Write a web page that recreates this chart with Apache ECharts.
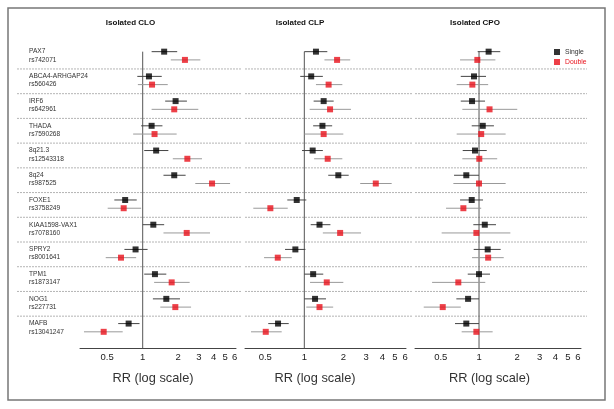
<!DOCTYPE html>
<html>
<head>
<meta charset="utf-8">
<script src="https://cdn.jsdelivr.net/npm/echarts@6/dist/echarts.min.js"></script>
<style>
  html, body { margin: 0; padding: 0; background: #fff; }
  #main { width: 614px; height: 409px; }
</style>
</head>
<body>
<div id="main"></div>
<script>
// loci, top to bottom
const genes = ['PAX7', 'ABCA4-ARHGAP24', 'IRF6', 'THADA', '8q21.3', '8q24', 'FOXE1',
  'KIAA1598-VAX1', 'SPRY2', 'TPM1', 'NOG1', 'MAFB'];
const snps = ['rs742071', 'rs560426', 'rs642961', 'rs7590268', 'rs12543318', 'rs987525',
  'rs3758249', 'rs7078160', 'rs8001641', 'rs1873147', 'rs227731', 'rs13041247'];

const panelTitles = ['Isolated CLO', 'Isolated CLP', 'Isolated CPO'];
const xTicks = [0.5, 1, 2, 3, 4, 5, 6];

// [RR, lower, upper]
const cloSingle = [[1.52, 1.19, 1.96], [1.13, 0.90, 1.45], [1.90, 1.55, 2.37], [1.19, 0.97, 1.47],
  [1.30, 1.03, 1.65], [1.85, 1.50, 2.31], [0.71, 0.575, 0.89], [1.23, 1.00, 1.52],
  [0.87, 0.70, 1.10], [1.27, 1.03, 1.585], [1.585, 1.22, 2.07], [0.76, 0.62, 0.94]];
const cloDouble = [[2.28, 1.73, 3.08], [1.20, 0.91, 1.63], [1.85, 1.19, 2.96], [1.26, 0.83, 1.94],
  [2.39, 1.80, 3.18], [3.87, 2.79, 5.5], [0.69, 0.505, 0.97], [2.36, 1.50, 3.72],
  [0.655, 0.486, 0.88], [1.76, 1.25, 2.50], [1.89, 1.41, 2.57], [0.467, 0.318, 0.677]];
const clpSingle = [[1.23, 1.00, 1.505], [1.13, 0.93, 1.39], [1.41, 1.18, 1.685], [1.38, 1.17, 1.64],
  [1.16, 0.96, 1.39], [1.83, 1.53, 2.20], [0.874, 0.739, 1.036], [1.31, 1.12, 1.59],
  [0.853, 0.71, 1.02], [1.17, 1.00, 1.40], [1.21, 1.00, 1.47], [0.627, 0.527, 0.758]];
const clpDouble = [[1.79, 1.43, 2.26], [1.54, 1.23, 1.965], [1.58, 1.10, 2.29], [1.41, 1.00, 2.00],
  [1.515, 1.19, 1.965], [3.56, 2.70, 4.72], [0.547, 0.404, 0.745], [1.89, 1.39, 2.74],
  [0.624, 0.489, 0.80], [1.49, 1.107, 2.00], [1.31, 1.036, 1.67], [0.504, 0.388, 0.669]];
const cpoSingle = [[1.19, 0.976, 1.47], [0.913, 0.718, 1.135], [0.881, 0.718, 1.115], [1.07, 0.876, 1.31],
  [0.93, 0.744, 1.15], [0.794, 0.636, 1.00], [0.876, 0.709, 1.075], [1.11, 0.902, 1.36],
  [1.17, 0.908, 1.48], [1.00, 0.815, 1.22], [0.82, 0.663, 1.00], [0.794, 0.647, 1.00]];
const cpoDouble = [[0.97, 0.709, 1.345], [0.886, 0.667, 1.18], [1.21, 0.739, 2.00], [1.04, 0.667, 1.62],
  [1.005, 0.739, 1.39], [1.00, 0.628, 1.62], [0.753, 0.55, 1.04], [0.953, 0.508, 1.765],
  [1.18, 0.881, 1.565], [0.687, 0.427, 1.12], [0.518, 0.367, 0.718], [0.953, 0.73, 1.28]];

const singles = [cloSingle, clpSingle, cpoSingle];
const doubles = [cloDouble, clpDouble, cpoDouble];

// x range of each panel's axis (RR)
const xMin = [0.2942, 0.3486, 0.3133];
const xMax = [6.175, 6.09, 6.35];

// layout, pixels
const panels = [
  {left: 80, width: 156, sepL: 63, sepR: 6, title: 130.5, name: 153},
  {left: 245, width: 161, sepL: 0, sepR: 6, title: 300, name: 315},
  {left: 415, width: 166, sepL: 0, sepR: 6, title: 475, name: 489.5}
];
const RED = '#e8101a';
const log = Math.log10;

// each locus uses 3 rows: single, double, separator
var rowTicks = [];
genes.forEach(function (g, i) { rowTicks.push(i * 3, i * 3 + 1); });
var sepRows = [];
for (var i = 0; i < genes.length - 1; i++) sepRows.push([0, i * 3 + 2.1]);

function whiskers(p, rows, off, color) {
  return {
    type: 'custom', xAxisIndex: p, yAxisIndex: p, silent: true, z: 2,
    data: rows.map(function (r, i) { return [log(r[1]), log(r[2]), i * 3 + off]; }),
    encode: {x: [0, 1], y: 2},
    renderItem: function (params, api) {
      var a = api.coord([api.value(0), api.value(2)]);
      var b = api.coord([api.value(1), api.value(2)]);
      return {type: 'line', shape: {x1: a[0], y1: a[1], x2: b[0], y2: b[1]},
        style: {stroke: color, lineWidth: 1}};
    }
  };
}

var grids = [], xAxes = [], yAxes = [], series = [], graphics = [];
panels.forEach(function (pn, p) {
  grids.push({left: pn.left, width: pn.width, top: 39.3, height: 309});
  xAxes.push({
    type: 'value', gridIndex: p, min: log(xMin[p]), max: log(xMax[p]),
    axisLine: {onZero: false, lineStyle: {color: '#444', width: 1}},
    axisTick: {show: false},
    splitLine: {show: false},
    axisLabel: {
      customValues: xTicks.map(log), margin: 4, fontSize: 9.5, color: '#222',
      formatter: function (v) { return String(+Math.pow(10, v).toFixed(1)); }
    }
  });
  yAxes.push({
    type: 'value', gridIndex: p, inverse: true, min: -1.5, max: 36,
    axisLine: {show: false}, axisTick: {show: false}, splitLine: {show: false},
    axisLabel: p === 0 ? {
      customValues: rowTicks, align: 'left', margin: 51, fontSize: 6.6, color: '#333',
      formatter: function (v) {
        var k = Math.floor(v / 3);
        return v % 3 === 0 ? genes[k] : snps[k];
      }
    } : {show: false}
  });

  // dotted separators between loci
  series.push({
    type: 'custom', xAxisIndex: p, yAxisIndex: p, silent: true, z: 1,
    data: sepRows, encode: {x: 0, y: 1},
    renderItem: (function (pn) {
      return function (params, api) {
        var y = api.coord([0, api.value(1)])[1];
        var cs = params.coordSys;
        return {type: 'line', shape: {x1: cs.x - pn.sepL, y1: y, x2: cs.x + cs.width + pn.sepR, y2: y},
          style: {stroke: '#b4b4b4', lineWidth: 1, lineDash: [2, 1]}};
      };
    })(pn)
  });
  // RR = 1 reference
  series.push({
    type: 'line', xAxisIndex: p, yAxisIndex: p, silent: true, symbol: 'none', z: 1,
    data: [[0, 0], [0, 36]], lineStyle: {color: '#555', width: 1}
  });
  series.push(whiskers(p, singles[p], 0, '#444'));
  series.push(whiskers(p, doubles[p], 1, '#999'));
  series.push({
    name: 'Single', type: 'scatter', xAxisIndex: p, yAxisIndex: p, symbol: 'rect', symbolSize: 6, z: 3,
    itemStyle: {color: '#000'},
    data: singles[p].map(function (r, i) { return [log(r[0]), i * 3]; })
  });
  series.push({
    name: 'Double', type: 'scatter', xAxisIndex: p, yAxisIndex: p, symbol: 'rect', symbolSize: 6, z: 3,
    itemStyle: {color: RED},
    data: doubles[p].map(function (r, i) { return [log(r[0]), i * 3 + 1]; })
  });

  graphics.push({type: 'text', x: pn.title, y: 23, silent: true,
    style: {text: panelTitles[p], align: 'center', verticalAlign: 'middle',
      font: 'bold 8px "Liberation Sans", Arial', fill: '#111'}});
  graphics.push({type: 'text', x: pn.name, y: 378, silent: true,
    style: {text: 'RR (log scale)', align: 'center', verticalAlign: 'middle',
      font: '12.8px "Liberation Sans", Arial', fill: '#333'}});
});

// frame round the figure
graphics.push({type: 'rect', silent: true, shape: {x: 8, y: 8, width: 597, height: 392},
  style: {fill: 'none', stroke: '#777', lineWidth: 1.5}});

var chart = echarts.init(document.getElementById('main'));
chart.setOption({
  animation: false,
  backgroundColor: '#fff',
  textStyle: {fontFamily: '"Liberation Sans", Arial, sans-serif'},
  legend: {
    orient: 'vertical', left: 554, top: 48.5, padding: 0, itemWidth: 6, itemHeight: 6, itemGap: 3,
    icon: 'rect', selectedMode: false,
    textStyle: {fontSize: 6.8},
    data: [{name: 'Single', textStyle: {color: '#333'}}, {name: 'Double', textStyle: {color: RED}}]
  },
  grid: grids,
  xAxis: xAxes,
  yAxis: yAxes,
  series: series,
  graphic: graphics
});
</script>
</body>
</html>
